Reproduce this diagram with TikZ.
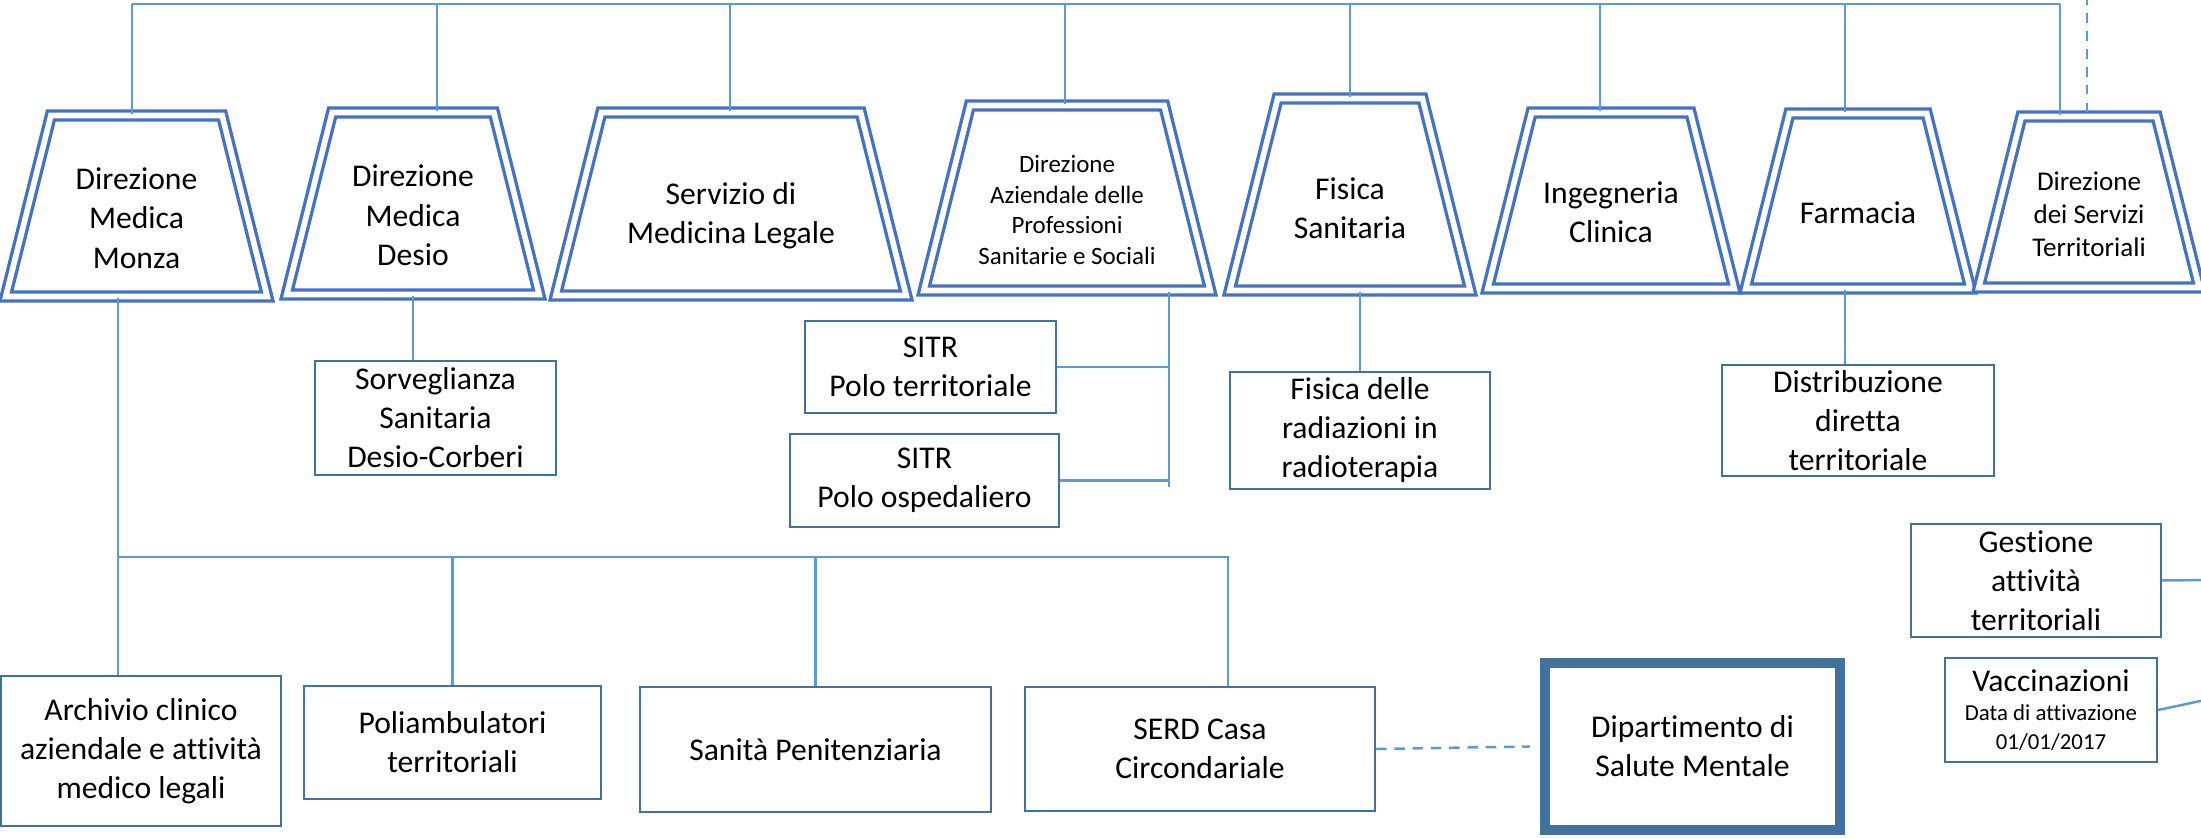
\documentclass[tikz,border=0pt]{standalone}
\usepackage{fontspec}
\setmainfont{Carlito}[Ligatures=NoCommon]
\usetikzlibrary{shapes.geometric}

\definecolor{trapblue}{HTML}{4472C4}
\definecolor{lineblue}{HTML}{5B9BD5}
\definecolor{boxblue}{HTML}{41719C}

\tikzset{
  trap/.style={trapezium, trapezium left angle=76, trapezium right angle=76,
    draw=trapblue, line width=0.95pt, double=white, double distance=1.6pt},
  ttext/.style={align=center, inner sep=0pt, yshift=-0.12cm,
    font=\fontsize{9}{11.2}\selectfont},
  box/.style={draw=boxblue, line width=0.6pt, align=center, inner sep=1pt,
    font=\fontsize{9}{11.1}\selectfont},
  conn/.style={draw=lineblue, line width=0.7pt},
}

\begin{document}
\begin{tikzpicture}

\useasboundingbox (0,0) rectangle (22.01,-8.38);

% direzioni (trapezi)
\node[trap, inner xsep=0.856cm, inner ysep=0.905cm] (monza) at (1.365,-2.06) {};
\node[trap, inner xsep=0.809cm, inner ysep=0.91cm] (desio) at (4.13,-2.035) {};
\node[trap, inner xsep=1.296cm, inner ysep=0.915cm] (serv) at (7.31,-2.04) {};
\node[trap, inner xsep=0.971cm, inner ysep=0.925cm] (diraz) at (10.67,-1.98) {};
\node[trap, inner xsep=0.724cm, inner ysep=0.96cm] (fisica) at (13.50,-1.945) {};
\node[trap, inner xsep=0.794cm, inner ysep=0.88cm] (ingegn) at (16.11,-2.005) {};
\node[trap, inner xsep=0.686cm, inner ysep=0.875cm] (farm) at (18.58,-2.01) {};
\node[trap, inner xsep=0.676cm, inner ysep=0.855cm] (dirterr) at (20.89,-2.02) {};

\node[ttext] (monza-t) at (monza) {Direzione\\Medica\\Monza};
\node[ttext] (desio-t) at (desio) {Direzione\\Medica\\Desio};
\node[ttext] (serv-t) at (serv) {Servizio di\\Medicina Legale};
\node[ttext, font=\fontsize{7.1}{8.8}\selectfont] (diraz-t) at (diraz)
  {Direzione\\Aziendale delle\\Professioni\\Sanitarie e Sociali};
\node[ttext, yshift=-0.02cm] (fisica-t) at (fisica) {Fisica\\Sanitaria};
\node[ttext] (ingegn-t) at (ingegn) {Ingegneria\\Clinica};
\node[ttext] (farm-t) at (farm) {Farmacia};
\node[ttext, font=\fontsize{7.7}{9.4}\selectfont] (dirterr-t) at (dirterr)
  {Direzione\\dei Servizi\\Territoriali};

% strutture
\node[box, minimum width=2.41cm, minimum height=1.14cm] (sorv) at (4.355,-4.18) {Sorveglianza\\Sanitaria\\Desio-Corberi};
\node[box, minimum width=2.51cm, minimum height=0.92cm] (sitrT) at (9.305,-3.67) {SITR\\Polo territoriale};
\node[box, minimum width=2.69cm, minimum height=0.93cm] (sitrO) at (9.245,-4.805) {SITR\\Polo ospedaliero};
\node[box, minimum width=2.6cm, minimum height=1.17cm] (fisrad) at (13.6,-4.305) {Fisica delle\\radiazioni in\\radioterapia};
\node[box, minimum width=2.72cm, minimum height=1.11cm] (distr) at (18.58,-4.205) {Distribuzione\\diretta\\territoriale};
\node[box, minimum width=2.5cm, minimum height=1.13cm] (gest) at (20.36,-5.805) {Gestione\\attività\\territoriali};
\node[box, minimum width=2.12cm, minimum height=1.04cm] (vacc) at (20.51,-7.10)
  {Vaccinazioni\\[-2.8pt]{\fontsize{6.5}{8}\selectfont Data di attivazione}\\[-3.1pt]{\fontsize{6.5}{8}\selectfont 01/01/2017}};
\node[box, line width=2.85pt, minimum width=2.95cm, minimum height=1.67cm] (dip) at (16.925,-7.465) {Dipartimento di\\Salute Mentale};
\node[box, minimum width=3.5cm, minimum height=1.24cm] (serd) at (12.0,-7.49) {SERD Casa\\Circondariale};
\node[box, minimum width=3.51cm, minimum height=1.25cm] (sanita) at (8.155,-7.495) {Sanità Penitenziaria};
\node[box, minimum width=2.97cm, minimum height=1.13cm] (poli) at (4.525,-7.425) {Poliambulatori\\territoriali};
\node[box, minimum width=2.8cm, minimum height=1.5cm] (arch) at (1.41,-7.51) {Archivio clinico\\aziendale e attività\\medico legali};

% linea in alto
\coordinate (top-monza) at (1.32,-0.04);
\coordinate (top-desio) at (4.37,-0.04);
\coordinate (top-serv) at (7.30,-0.04);
\coordinate (top-diraz) at (10.65,-0.04);
\coordinate (top-fisica) at (13.50,-0.04);
\coordinate (top-ingegn) at (16.00,-0.04);
\coordinate (top-farm) at (18.45,-0.04);
\coordinate (top-dirterr) at (20.60,-0.04);
\coordinate (top-dash) at (20.87,0.05);

\draw[conn] (top-monza) -- (top-dirterr);
\draw[conn] (top-monza) -- (top-monza |- monza.north);
\draw[conn] (top-desio) -- (top-desio |- desio.north);
\draw[conn] (top-serv) -- (top-serv |- serv.north);
\draw[conn] (top-diraz) -- (top-diraz |- diraz.north);
\draw[conn] (top-fisica) -- (top-fisica |- fisica.north);
\draw[conn] (top-ingegn) -- (top-ingegn |- ingegn.north);
\draw[conn] (top-farm) -- (top-farm |- farm.north);
\draw[conn] (top-dirterr) -- (top-dirterr |- dirterr.north);
\draw[conn, dash pattern=on 2.8pt off 2.3pt] (top-dash) -- (top-dash |- dirterr.north);

% sotto le direzioni
\draw[conn] (desio.south) -- (desio.south |- sorv.north);

\coordinate (az-drop) at (11.69,-4.87);
\draw[conn] (az-drop |- diraz.south) -- (az-drop);
\draw[conn] (sitrT.east) -- (sitrT.east -| az-drop);
\draw[conn] (sitrO.east) -- (sitrO.east -| az-drop);

\draw[conn] (fisrad.north |- fisica.south) -- (fisrad.north);

\coordinate (farm-drop) at (18.45,-3.60);
\draw[conn] (farm-drop |- farm.south) -- (farm-drop |- distr.north);

\coordinate (edge-g) at (22.1,-5.80);
\coordinate (edge-v) at (22.1,-6.99);
\draw[conn] (gest.east) -- (edge-g);
\draw[conn] (vacc.east) -- (edge-v);

% linea in basso
\coordinate (bus-l) at (1.18,-5.57);
\coordinate (bus-r) at (12.28,-5.57);
\draw[conn] (bus-l |- monza.south) -- (bus-l |- arch.north);
\draw[conn] (bus-l) -- (bus-r) -- (bus-r |- serd.north);
\draw[conn] (poli.north |- bus-l) -- (poli.north);
\draw[conn] (sanita.north |- bus-l) -- (sanita.north);

\draw[conn, dash pattern=on 3pt off 2.2pt] (serd.east) -- ([xshift=-1mm]dip.west);

\end{tikzpicture}
\end{document}
